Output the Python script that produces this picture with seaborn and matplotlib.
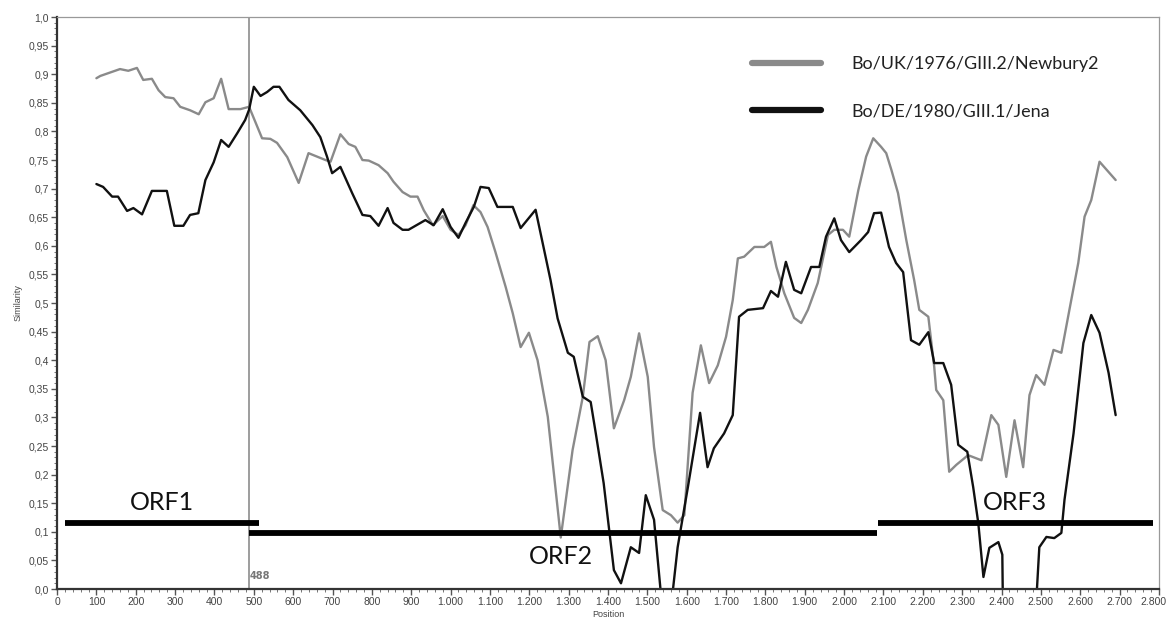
import numpy as np
import pandas as pd
import seaborn as sns
import matplotlib.pyplot as plt
from matplotlib.lines import Line2D
from matplotlib.ticker import MultipleLocator, FuncFormatter
from matplotlib.transforms import ScaledTranslation

# Similarity values (position, similarity)
newbury_pos = [100, 110, 160, 181, 203, 219, 241, 258, 275, 296, 313, 338, 360, 377, 398, 417, 436, 466, 488,
               521, 542, 559, 585, 614, 639, 682, 695, 720, 741, 758, 776, 792, 817, 840, 855, 878, 898, 916,
               932, 955, 980, 1000, 1020, 1038, 1058, 1076, 1094, 1114, 1140, 1158, 1178, 1199, 1221, 1247,
               1280, 1310, 1336, 1353, 1374, 1394, 1415, 1441, 1458, 1479, 1501, 1517, 1539, 1560, 1577, 1594,
               1615, 1636, 1657, 1679, 1700, 1717, 1730, 1746, 1772, 1797, 1814, 1828, 1848, 1873, 1891, 1908,
               1933, 1959, 1975, 1997, 2013, 2036, 2056, 2074, 2094, 2107, 2120, 2137, 2158, 2178, 2191, 2214,
               2229, 2234, 2252, 2267, 2285, 2315, 2349, 2374, 2392, 2412, 2433, 2455, 2471, 2488, 2509, 2532,
               2552, 2573, 2595, 2611, 2628, 2649, 2690]
newbury_sim = [0.893, 0.897, 0.909, 0.906, 0.911, 0.89, 0.892, 0.872, 0.86, 0.858, 0.843, 0.837, 0.83, 0.851,
               0.858, 0.892, 0.839, 0.839, 0.843, 0.788, 0.787, 0.78, 0.755, 0.71, 0.762, 0.75, 0.747, 0.795,
               0.778, 0.773, 0.75, 0.749, 0.741, 0.727, 0.712, 0.694, 0.686, 0.686, 0.662, 0.636, 0.652, 0.628,
               0.619, 0.636, 0.671, 0.659, 0.633, 0.589, 0.528, 0.482, 0.423, 0.448, 0.4, 0.301, 0.09, 0.243,
               0.336, 0.432, 0.442, 0.4, 0.281, 0.33, 0.371, 0.447, 0.371, 0.248, 0.138, 0.129, 0.116, 0.129,
               0.343, 0.426, 0.36, 0.391, 0.441, 0.505, 0.578, 0.581, 0.598, 0.598, 0.607, 0.563, 0.517, 0.474,
               0.465, 0.488, 0.535, 0.619, 0.628, 0.628, 0.616, 0.697, 0.756, 0.788, 0.773, 0.762, 0.733, 0.692,
               0.61, 0.54, 0.488, 0.476, 0.388, 0.348, 0.33, 0.205, 0.217, 0.234, 0.225, 0.304, 0.287, 0.196,
               0.295, 0.213, 0.339, 0.374, 0.357, 0.418, 0.413, 0.49, 0.57, 0.651, 0.68, 0.747, 0.715]

jena_pos = [100, 117, 140, 155, 178, 194, 216, 241, 279, 298, 321, 338, 359, 377, 398, 417, 436, 458, 478, 488,
            500, 517, 534, 550, 565, 588, 618, 649, 669, 686, 699, 720, 750, 776, 796, 817, 840, 855, 878, 893,
            936, 957, 980, 1000, 1020, 1038, 1059, 1076, 1097, 1119, 1158, 1178, 1216, 1237, 1254, 1272, 1298,
            1313, 1336, 1356, 1369, 1389, 1415, 1433, 1458, 1479, 1496, 1517, 1536, 1545, 1556, 1562, 1577,
            1603, 1634, 1653, 1669, 1695, 1717, 1733, 1755, 1794, 1814, 1832, 1852, 1873, 1891, 1916, 1937,
            1954, 1975, 1992, 2013, 2043, 2061, 2076, 2094, 2114, 2132, 2150, 2170, 2191, 2214, 2229, 2252,
            2272, 2290, 2313, 2328, 2341, 2354, 2369, 2392, 2402, 2408, 2484, 2490, 2496, 2514, 2534, 2552,
            2560, 2583, 2608, 2628, 2649, 2672, 2690]
jena_sim = [0.708, 0.703, 0.686, 0.686, 0.661, 0.666, 0.655, 0.696, 0.696, 0.635, 0.635, 0.654, 0.657, 0.715,
            0.746, 0.785, 0.773, 0.797, 0.82, 0.838, 0.878, 0.862, 0.869, 0.878, 0.878, 0.855, 0.837, 0.811,
            0.79, 0.756, 0.727, 0.738, 0.692, 0.654, 0.652, 0.635, 0.666, 0.64, 0.628, 0.628, 0.645, 0.636,
            0.664, 0.633, 0.614, 0.64, 0.668, 0.703, 0.701, 0.668, 0.668, 0.631, 0.663, 0.595, 0.54, 0.473,
            0.413, 0.406, 0.336, 0.327, 0.272, 0.185, 0.033, 0.01, 0.073, 0.063, 0.164, 0.121, -0.02, -0.08,
            -0.08, -0.02, 0.073, 0.178, 0.308, 0.213, 0.246, 0.272, 0.304, 0.476, 0.488, 0.491, 0.521, 0.511,
            0.572, 0.523, 0.517, 0.563, 0.563, 0.616, 0.648, 0.61, 0.589, 0.61, 0.624, 0.657, 0.658, 0.598,
            0.57, 0.554, 0.435, 0.427, 0.449, 0.395, 0.395, 0.357, 0.252, 0.24, 0.178, 0.115, 0.021, 0.072,
            0.082, 0.06, -0.3, -0.3, 0.0, 0.073, 0.091, 0.089, 0.098, 0.156, 0.272, 0.43, 0.479, 0.448, 0.378,
            0.304]

series_names = ["Bo/UK/1976/GIII.2/Newbury2", "Bo/DE/1980/GIII.1/Jena"]
series_colors = ["#8a8a8a", "#111111"]

# ORF bars: label, start, end, level, label position
orf_names = ["ORF1", "ORF2", "ORF3"]
orf_start = [20, 489, 2087]
orf_end = [514, 2084, 2786]
orf_level = [0.115, 0.098, 0.115]
orf_label_x = [267, 1280, 2433]
orf_label_y = [0.151, 0.056, 0.152]

breakpoint_pos = 488

df = pd.concat([
    pd.DataFrame({"Position": newbury_pos, "Similarity": newbury_sim, "Strain": series_names[0]}),
    pd.DataFrame({"Position": jena_pos, "Similarity": jena_sim, "Strain": series_names[1]}),
])

sns.set_style("white")
plt.rcParams['font.family'] = ['Liberation Sans', 'DejaVu Sans']

fig = plt.figure(figsize=(11.69, 6.28), dpi=100)
ax = fig.add_axes([0.0488, 0.0621, 0.9426, 0.9108])

sns.lineplot(data=df, x="Position", y="Similarity", hue="Strain", palette=series_colors,
             linewidth=1.7, ax=ax, legend=False, sort=False, estimator=None)

ax.axvline(breakpoint_pos, color="#8c8c8c", lw=1.2, zorder=1)
ax.text(breakpoint_pos + 28, 0.023, str(breakpoint_pos), fontsize=7, color="#777777",
        family="DejaVu Sans", fontweight="bold", ha="center", va="center")

for name, s, e, lvl, lx, ly in zip(orf_names, orf_start, orf_end, orf_level, orf_label_x, orf_label_y):
    ax.plot([s, e], [lvl, lvl], color="black", lw=4.2, solid_capstyle="butt", zorder=4)
    ax.text(lx, ly, name, fontsize=18, family="Lato", color="#111111", ha="center", va="center")

ax.set_xlim(0, 2800)
ax.set_ylim(0, 1.0)

ax.xaxis.set_major_locator(MultipleLocator(100))
ax.xaxis.set_minor_locator(MultipleLocator(20))
ax.yaxis.set_major_locator(MultipleLocator(0.05))
ax.yaxis.set_minor_locator(MultipleLocator(0.01))
ax.xaxis.set_major_formatter(FuncFormatter(lambda v, p: f"{int(round(v)):,}".replace(",", ".")))


def yfmt(v, p):
    if abs(v * 10 - round(v * 10)) < 1e-6:
        return f"{v:.1f}".replace(".", ",")
    return f"{v:.2f}".replace(".", ",")


ax.yaxis.set_major_formatter(FuncFormatter(yfmt))
ax.tick_params(axis="both", which="major", direction="out", length=4, width=1, color="#555555",
               labelsize=7.5, labelcolor="#444444", pad=2)
ax.tick_params(axis="both", which="minor", direction="out", length=2, width=0.7, color="#777777")
ax.tick_params(bottom=True, left=True, which="both")

ax.set_xlabel("Position", fontsize=6.5, color="#444444", labelpad=2)
ax.set_ylabel("Similarity", fontsize=6.5, color="#444444", labelpad=4)

for side in ["left", "bottom"]:
    ax.spines[side].set_color("#333333")
    ax.spines[side].set_linewidth(1.6)
for side in ["top", "right"]:
    ax.spines[side].set_color("#999999")
    ax.spines[side].set_linewidth(0.9)

handles = [Line2D([0], [0], color=c, lw=4.5) for c in series_colors]
leg = ax.legend(handles, series_names, loc="upper left", bbox_to_anchor=(0.631, 0.932),
                frameon=False, borderaxespad=0, borderpad=0, handlelength=3.8,
                handletextpad=1.7, labelspacing=1.75,
                prop={"family": "Lato", "size": 13})
for t in leg.get_texts():
    t.set_color("#222222")

# keep the 2.800 tick label inside the figure
fig.canvas.draw()
for lab in ax.get_xticklabels():
    if lab.get_text() == "2.800":
        lab.set_transform(lab.get_transform() + ScaledTranslation(-4 / 72, 0, fig.dpi_scale_trans))

fig.savefig("out.png", dpi=100)
